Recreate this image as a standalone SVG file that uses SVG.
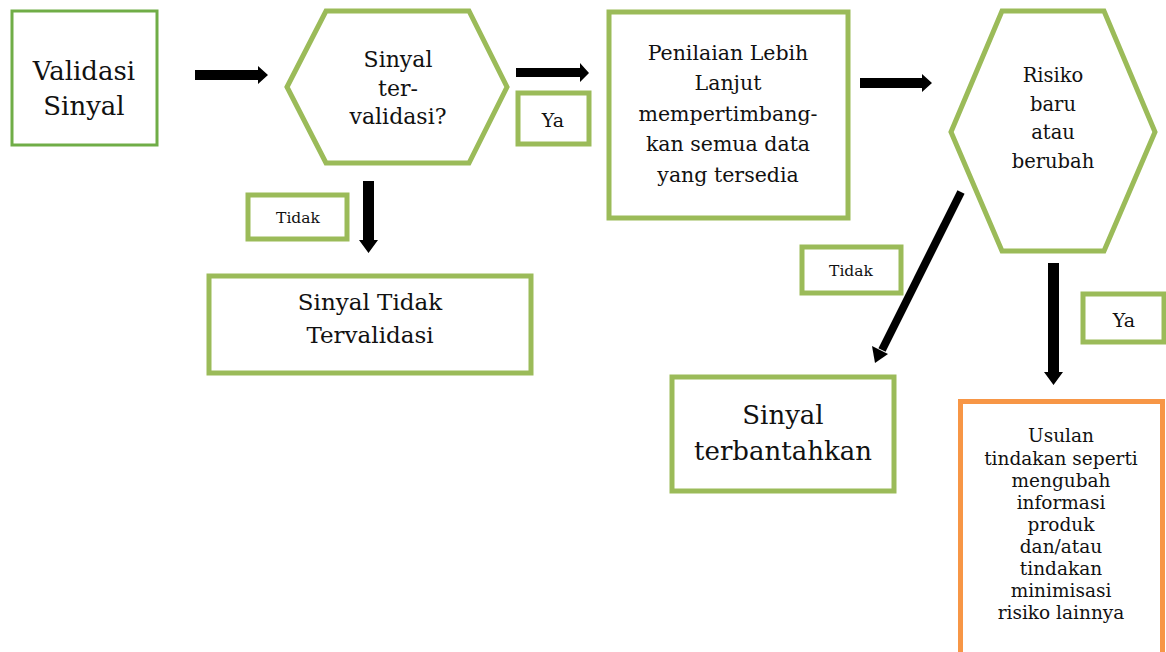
<svg xmlns="http://www.w3.org/2000/svg" width="1166" height="652" viewBox="0 0 1166 652">
<style>
.box{fill:#fff;stroke:#9BBB59;stroke-width:5}
.box1{fill:#fff;stroke:#70AD47;stroke-width:3}
.obox{fill:#fff;stroke:#F79646;stroke-width:5}
text{font-family:"DejaVu Serif","Liberation Serif",serif;fill:#111;text-anchor:middle}
.arr{fill:#000}
</style>
<g id="validasi">
<rect class="box1" x="12" y="11" width="145" height="134"/>
<text font-size="26"><tspan x="84" y="80">Validasi</tspan><tspan x="84" y="115">Sinyal</tspan></text>
</g>
<g id="hex1">
<polygon class="box" points="287,87 326,11 469,11 507,87 469,163 326,163"/>
<text font-size="22"><tspan x="398" y="67">Sinyal</tspan><tspan x="398" y="96">ter-</tspan><tspan x="398" y="124">validasi?</tspan></text>
</g>
<g id="ya1">
<rect class="box" x="518" y="93" width="71" height="51"/>
<text font-size="19" x="553" y="127">Ya</text>
</g>
<g id="tidak1">
<rect class="box" x="248" y="195" width="99" height="44"/>
<text font-size="15.5" x="298" y="223">Tidak</text>
</g>
<g id="tidakvalid">
<rect class="box" x="209" y="276" width="322" height="97"/>
<text font-size="23"><tspan x="370" y="310">Sinyal Tidak</tspan><tspan x="370" y="343">Tervalidasi</tspan></text>
</g>
<g id="penilaian">
<rect class="box" x="609" y="12" width="239" height="206"/>
<text font-size="20.5"><tspan x="728" y="60">Penilaian Lebih</tspan><tspan x="728" y="90">Lanjut</tspan><tspan x="728" y="121">mempertimbang-</tspan><tspan x="728" y="151">kan semua data</tspan><tspan x="728" y="182">yang tersedia</tspan></text>
</g>
<g id="hex2">
<polygon class="box" points="951,132 1002,11 1104,11 1155,132 1104,251 1002,251"/>
<text font-size="19.5"><tspan x="1053" y="82">Risiko</tspan><tspan x="1053" y="111">baru</tspan><tspan x="1053" y="139">atau</tspan><tspan x="1053" y="168">berubah</tspan></text>
</g>
<g id="tidak2">
<rect class="box" x="802" y="247" width="99" height="46"/>
<text font-size="15.5" x="851" y="276">Tidak</text>
</g>
<g id="terbantahkan">
<rect class="box" x="672" y="377" width="222" height="114"/>
<text font-size="26"><tspan x="783" y="424">Sinyal</tspan><tspan x="783" y="460">terbantahkan</tspan></text>
</g>
<g id="ya2">
<rect class="box" x="1083" y="294" width="81" height="48"/>
<text font-size="19" x="1124" y="327">Ya</text>
</g>
<g id="usulan">
<rect class="obox" x="960.5" y="401.5" width="202" height="260"/>
<text font-size="18.5"><tspan x="1061" y="442">Usulan</tspan><tspan x="1061" y="465">tindakan seperti</tspan><tspan x="1061" y="487">mengubah</tspan><tspan x="1061" y="509">informasi</tspan><tspan x="1061" y="531">produk</tspan><tspan x="1061" y="553">dan/atau</tspan><tspan x="1061" y="575">tindakan</tspan><tspan x="1061" y="597">minimisasi</tspan><tspan x="1061" y="619">risiko lainnya</tspan></text>
</g>
<g id="connectors">
<polygon class="arr" points="195,70 258,70 258,66 268,75 258,84 258,80 195,80"/>
<polygon class="arr" points="516,68 580,68 580,63 589,73 580,82 580,77 516,77"/>
<polygon class="arr" points="363,181 374,181 374,240 378,240 368.5,253 359,240 363,240"/>
<polygon class="arr" points="860,78 922,78 922,74 932,83 922,92 922,88 860,88"/>
<polygon class="arr" points="1048,263 1059,263 1059,372 1063,372 1053.5,385 1044,372 1048,372"/>
<line x1="961" y1="192" x2="882" y2="350" stroke="#000" stroke-width="8"/>
<polygon class="arr" points="875,363 872,346 888,354"/>
</g>
</svg>
